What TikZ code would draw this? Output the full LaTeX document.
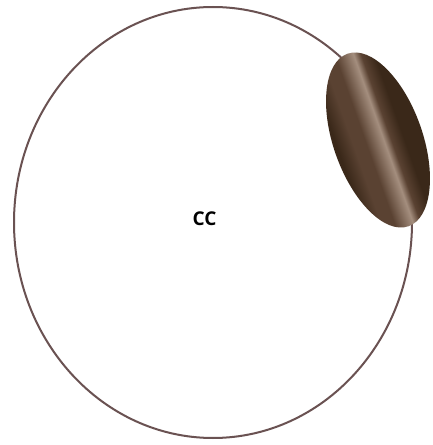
\documentclass[tikz,border=0pt]{standalone}
\usepackage{fontspec}
\setmainfont{Open Sans}
\definecolor{ringcol}{HTML}{6A5252}
\definecolor{bdark}{HTML}{3A2819}
\definecolor{bmid}{HTML}{5A4232}
\definecolor{blight}{HTML}{A48E7E}
\pgfdeclarehorizontalshading{beanshade}{100bp}{
  color(0bp)=(bdark);
  color(27bp)=(bdark);
  color(36bp)=(bmid);
  color(43bp)=(bmid);
  color(53bp)=(blight);
  color(57bp)=(bmid);
  color(64bp)=(bdark);
  color(100bp)=(bdark)}
\tikzset{
  ring/.style={draw=ringcol, line width=2pt},
  bean/.style={shading=beanshade},
  label/.style={font=\bfseries\fontsize{19}{22}\selectfont, text=black}
}
\begin{document}
\begin{tikzpicture}[x=1pt,y=1pt]
\useasboundingbox (0,0) rectangle (432,445);
\fill[white] (0,0) rectangle (432,445);
\draw[ring] (213,222.5) ellipse [x radius=199, y radius=215.5];
\begin{scope}[transform canvas={rotate around={19.5:(378,305)}}]
\shade[bean] (378,305) ellipse [x radius=44.6, y radius=91.5];
\end{scope}
\node[label] (cc) at (204.5,226) {CC};
\end{tikzpicture}
\end{document}
